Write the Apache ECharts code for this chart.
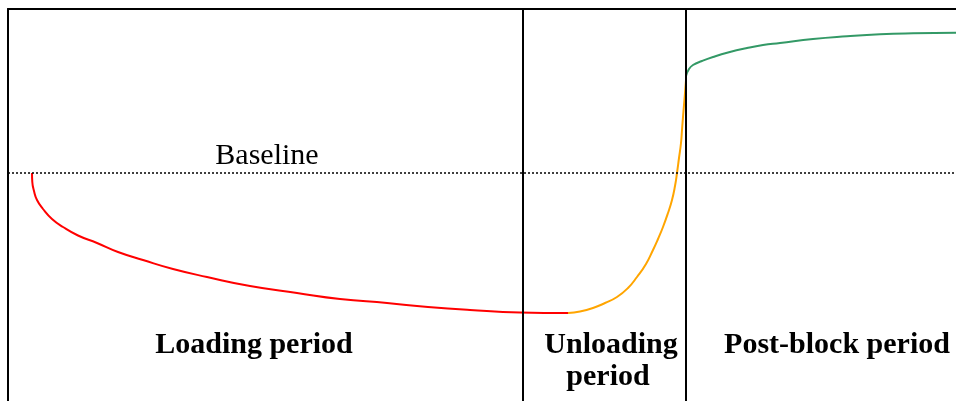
<!DOCTYPE html>
<html>
<head>
<meta charset="utf-8">
<script src="https://cdn.jsdelivr.net/npm/echarts@6/dist/echarts.min.js"></script>
<style>html,body{margin:0;padding:0;background:#fff;}#c{width:956px;height:401px;}</style>
</head>
<body>
<div id="c"></div>
<script>
// x: time (arbitrary units), y: response relative to baseline (0)
const loadingCurve = [[24,0],[24.3,-9],[26,-18],[29,-27],[35,-36],[44,-46],[55,-54],[70,-62.5],[89,-70],[110,-79],[135,-87],[165,-96],[199,-104],[242,-113],[289,-120],[332,-126],[379,-130],[420,-134],[462,-137],[512,-139.5],[560,-140]];
const unloadingCurve = [[560,-140],[572,-138.5],[585,-135],[597,-130],[609,-124],[620,-115],[629,-104],[638,-91],[645,-77],[650,-66],[655,-54],[660,-40],[664,-27],[667,-13],[669,0],[671,15],[673,30],[674,43],[675,56],[676,68],[677,80],[678,93]];
const postBlockCurve = [[678,97],[681,104],[685,108],[694,112],[705,116],[720,120.5],[739,125],[755,128],[772,130],[805,134],[839,136.7],[872,138.7],[905,139.7],[948,140.3]];
const periodBoundaries = [514.5, 678];
const baselineValue = 0;
const baselineLabel = 'Baseline';
const periodLabels = ['Loading period', 'Unloading', 'period', 'Post-block period'];

const chart = echarts.init(document.getElementById('c'), null, {renderer: 'canvas'});
const font = 'Liberation Serif, "Times New Roman", serif';
const lineSeries = (data, color) => ({
  type: 'line', data: data, showSymbol: false, smooth: 0.5,
  lineStyle: {color: color, width: 2}, silent: true, animation: false
});
const frameLine = {show: true, onZero: false, lineStyle: {color: '#000', width: 2}};
chart.setOption({
  animation: false,
  grid: {left: 8, top: 9, right: 0, bottom: 0, show: false},
  xAxis: {type: 'value', min: 0, max: 948, position: 'top', axisLine: frameLine, axisTick: {show: false}, axisLabel: {show: false}, splitLine: {show: false}},
  yAxis: {type: 'value', min: -228, max: 164, position: 'left', axisLine: frameLine, axisTick: {show: false}, axisLabel: {show: false}, splitLine: {show: false}},
  series: [
    Object.assign(lineSeries(loadingCurve, '#ff0000'), {
      markLine: {
        symbol: 'none', silent: true, animation: false, label: {show: false},
        data: [
          {yAxis: baselineValue, lineStyle: {color: '#000', type: [2, 2], width: 1.5}},
          {xAxis: periodBoundaries[0], lineStyle: {color: '#000', type: 'solid', width: 2}},
          {xAxis: periodBoundaries[1], lineStyle: {color: '#000', type: 'solid', width: 2}}
        ]
      }
    }),
    lineSeries(unloadingCurve, '#ffa500'),
    lineSeries(postBlockCurve, '#339966')
  ],
  graphic: [
    {type: 'text', x: 267, y: 156, style: {text: baselineLabel, font: '30px ' + font, fill: '#000', align: 'center', verticalAlign: 'middle'}},
    {type: 'text', x: 254, y: 345, style: {text: periodLabels[0], font: 'bold 30px ' + font, fill: '#000', align: 'center', verticalAlign: 'middle'}},
    {type: 'text', x: 611, y: 345, style: {text: periodLabels[1], font: 'bold 30px ' + font, fill: '#000', align: 'center', verticalAlign: 'middle'}},
    {type: 'text', x: 608, y: 377, style: {text: periodLabels[2], font: 'bold 30px ' + font, fill: '#000', align: 'center', verticalAlign: 'middle'}},
    {type: 'text', x: 837, y: 345, style: {text: periodLabels[3], font: 'bold 30px ' + font, fill: '#000', align: 'center', verticalAlign: 'middle'}}
  ]
});
</script>
</body>
</html>
